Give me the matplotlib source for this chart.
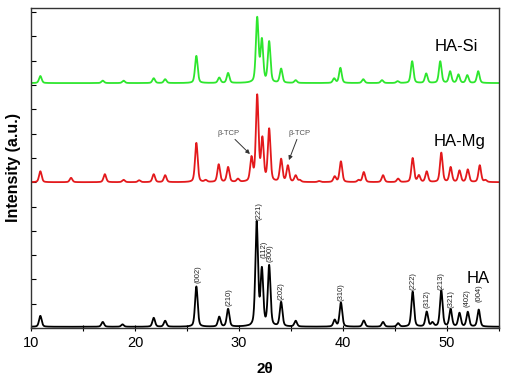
import numpy as np
import matplotlib
matplotlib.use("Agg")
import matplotlib.pyplot as plt

plt.rcParams['font.family'] = ['Liberation Sans', 'DejaVu Sans']

# ---- data (peak position in 2theta, apparent height above baseline) ----
ha_pos = [10.9, 16.9, 18.8, 21.8, 22.9, 25.9, 28.1, 28.95, 31.05, 31.7, 32.2, 32.9, 34.05,
          35.45, 39.2, 39.8, 42.0, 43.85, 45.3, 46.7, 48.05, 48.6, 49.45, 50.35, 51.2, 52.0, 53.05]
ha_h = [0.45, 0.2, 0.1, 0.37, 0.25, 1.66, 0.42, 0.74, 0.1, 4.36, 2.47, 2.55, 1.03,
        0.25, 0.3, 1.0, 0.26, 0.2, 0.15, 1.45, 0.63, 0.2, 1.5, 0.74, 0.58, 0.62, 0.71]

mg_pos = [10.9, 13.85, 17.1, 18.9, 20.4, 21.8, 22.9, 25.9, 26.8, 28.05, 28.95, 29.9, 31.2,
          31.75, 32.25, 32.9, 34.05, 34.7, 35.45, 35.85, 37.7, 39.2, 39.8, 41.5, 42.0, 43.85,
          45.3, 46.7, 47.3, 48.05, 49.45, 50.35, 51.2, 52.0, 53.15, 53.7]
mg_h = [0.45, 0.18, 0.33, 0.1, 0.08, 0.33, 0.29, 1.62, 0.1, 0.74, 0.63, 0.15, 1.08,
        3.62, 1.89, 2.22, 0.97, 0.7, 0.29, 0.1, 0.05, 0.25, 0.86, 0.1, 0.42, 0.29,
        0.15, 1.0, 0.3, 0.45, 1.22, 0.63, 0.49, 0.53, 0.7, 0.1]

si_pos = [10.9, 16.9, 18.9, 21.8, 22.9, 25.9, 28.1, 28.95, 31.75, 32.2, 32.9, 34.05, 35.45,
          39.15, 39.75, 41.95, 43.75, 45.25, 46.65, 48.0, 49.35, 50.3, 51.1, 51.95, 53.0]
si_h = [0.29, 0.1, 0.1, 0.2, 0.16, 1.12, 0.23, 0.42, 2.73, 1.86, 1.73, 0.6, 0.12,
        0.2, 0.63, 0.16, 0.12, 0.08, 0.9, 0.4, 0.9, 0.49, 0.36, 0.33, 0.49]

offsets = {'HA': 0.05, 'HA-Mg': 6.0, 'HA-Si': 10.08}

hkl_labels = ['(002)', '(210)', '(221)', '(112)', '(300)', '(202)', '(310)',
              '(222)', '(312)', '(213)', '(321)', '(402)', '(004)']
hkl_x = [26.1, 29.05, 31.9, 32.4, 32.95, 34.05, 39.85, 46.7, 48.05, 49.45, 50.4, 51.95, 53.05]
hkl_y = [1.85, 0.9, 4.44, 2.88, 2.7, 1.15, 1.1, 1.56, 0.82, 1.56, 0.82, 0.88, 1.08]


def profile(d, w=0.30, eta=0.4):
    g = np.exp(-4 * np.log(2) * (d / w) ** 2)
    l = 1.0 / (1.0 + 4 * (d / w) ** 2)
    return eta * l + (1 - eta) * g


def pattern(x, pos, h):
    pos = np.asarray(pos)
    h = np.asarray(h)
    A = profile(pos[:, None] - pos[None, :])
    amp = np.linalg.solve(A, h)
    return (amp[None, :] * profile(x[:, None] - pos[None, :])).sum(axis=1)


x = np.linspace(10, 55, 4000)

fig = plt.figure(figsize=(5.10, 3.78), dpi=100)
ax = fig.add_axes([31 / 510, 50 / 378, 468 / 510, 320 / 378])

ax.plot(x, pattern(x, ha_pos, ha_h) + offsets['HA'], color='black', lw=1.3)
ax.plot(x, pattern(x, mg_pos, mg_h) + offsets['HA-Mg'], color='#e3191c', lw=1.3)
ax.plot(x, pattern(x, si_pos, si_h) + offsets['HA-Si'], color='#2ee62e', lw=1.3)

ax.set_xlim(10, 55)
ax.set_ylim(0, 13.17)
ax.set_xticks([10, 20, 30, 40, 50])
ax.set_xticks(np.arange(10, 56, 5), minor=True)
ax.set_yticks(np.arange(0, 14, 1))
ax.set_yticklabels([])
ax.tick_params(axis='x', which='both', direction='inout', length=5, width=0.8,
               labelsize=10.5, top=False, pad=3)
ax.tick_params(axis='y', which='both', direction='in', length=3.5, width=0.8,
               right=False)
for s in ax.spines.values():
    s.set_linewidth(1.0)
    s.set_color('#333333')

ax.set_xlabel('2θ', fontsize=11, fontweight='bold', labelpad=9)
ax.set_ylabel('Intensity (a.u.)', fontsize=11.5, fontweight='bold', labelpad=4)

for t, xx, yy in zip(hkl_labels, hkl_x, hkl_y):
    ax.text(xx, yy, t, rotation=90, fontsize=5.5, ha='center', va='bottom', color='#222222')

ax.text(53.0, 2.05, 'HA', fontsize=12, ha='center', va='center')
ax.text(51.2, 7.67, 'HA-Mg', fontsize=12, ha='center', va='center')
ax.text(50.9, 11.58, 'HA-Si', fontsize=12, ha='center', va='center')

arrowprops = dict(arrowstyle='-|>', color='#333333', lw=0.7, mutation_scale=6,
                  shrinkA=0, shrinkB=0)
ax.annotate('β-TCP', xy=(31.05, 7.16), xytext=(29.0, 8.02), fontsize=5.5,
            color='#555555', ha='center', va='center', arrowprops=arrowprops)
ax.annotate('β-TCP', xy=(34.8, 6.91), xytext=(35.8, 8.02), fontsize=5.5,
            color='#555555', ha='center', va='center', arrowprops=arrowprops)

fig.savefig('out.png', dpi=100)
